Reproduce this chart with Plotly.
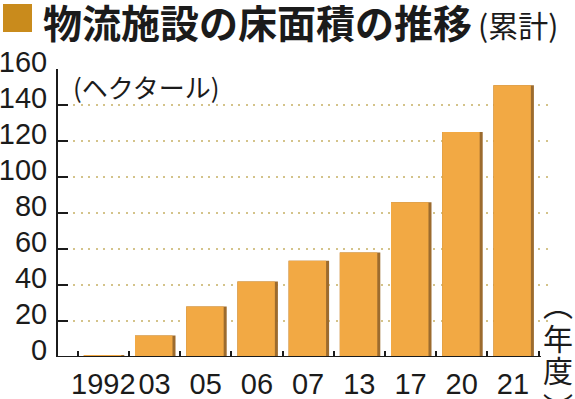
import plotly.graph_objects as go

# ---- data ----
years = ["1992", "03", "05", "06", "07", "13", "17", "20", "21"]
area_ha = [1, 12, 28, 42, 53.5, 58, 86, 125, 151]
y_ticks = [0, 20, 40, 60, 80, 100, 120, 140, 160]

title_text = "物流施設の床面積の推移"
title_sub = "(累計)"
unit_text = "(ヘクタール)"
year_unit = ["︵", "年", "度", "︶"]   # vertical (年度)

# ---- layout geometry (pixels) ----
W, H = 575, 399
L, R, T, B = 58, 24, 69, 42
PW, PH = W - L - R, H - T - B

def px(x):
    return (x - L) / PW

def py(y):
    return (H - B - y) / PH

NUM = "'Liberation Sans', Arial, sans-serif"
JP = "'Noto Sans CJK JP', 'Noto Sans CJK SC', sans-serif"

BAR = "#F2A944"
SHADOW = "#9C6B2E"
GRID = "#D4C38A"
INK = "#1b1b1b"

fig = go.Figure()
fig.add_trace(go.Bar(x=years, y=area_ha, marker=dict(color=SHADOW, line=dict(width=0)),
                     offset=-0.381, width=0.791, hoverinfo="skip", showlegend=False))
fig.add_trace(go.Bar(x=years, y=area_ha, marker=dict(color=BAR, line=dict(width=0)),
                     offset=-0.381, width=0.732, showlegend=False))

fig.update_layout(
    width=W, height=H,
    margin=dict(l=L, r=R, t=T, b=B, pad=0, autoexpand=False),
    paper_bgcolor="white", plot_bgcolor="white",
    barmode="overlay",
    font=dict(family=NUM, color=INK),
    xaxis=dict(
        type="category", range=[-0.885, 8.744], automargin=False, tickangle=0,
        showgrid=False, showline=False, zeroline=False,
        ticks="inside", tickson="boundaries", ticklen=6, tickwidth=2, tickcolor=INK,
        tickfont=dict(family=NUM, size=29, color=INK),
        ticklabelstandoff=7,
    ),
    yaxis=dict(
        range=[0, 160], tickvals=y_ticks, ticktext=[str(v) for v in y_ticks], automargin=False,
        showgrid=True, gridcolor=GRID, gridwidth=2, griddash="2px,5.5px",
        showline=True, linecolor=INK, linewidth=2, zeroline=False,
        ticks="inside", ticklen=10, tickwidth=2, tickcolor=INK,
        tickfont=dict(family=NUM, size=29, color=INK),
        ticklabelstandoff=3, ticklabelshift=-7,
    ),
)

# x axis baseline (ends at last category boundary)
fig.add_shape(type="line", xref="paper", yref="y", x0=0, x1=px(541), y0=0, y1=0,
              line=dict(color=INK, width=2))

# title square
fig.add_shape(type="rect", xref="paper", yref="paper",
              x0=px(3), x1=px(32), y0=py(32), y1=py(4),
              fillcolor="#C98B1C", line=dict(width=0))

ann = []
ann.append(dict(text="<b>" + title_text + "</b>", x=px(41), y=py(21), xanchor="left", yanchor="middle",
                font=dict(family=JP, size=39, color=INK)))
ann.append(dict(text=title_sub, x=px(476), y=py(24), xanchor="left", yanchor="middle",
                font=dict(family=JP, size=30, color=INK)))
ann.append(dict(text=unit_text, x=px(71), y=py(86), xanchor="left", yanchor="middle",
                font=dict(family=JP, size=26, color=INK)))
ys = [303, 337, 369, 406]
for ch, yy in zip(year_unit, ys):
    ann.append(dict(text=ch, x=px(558), y=py(yy), xanchor="center", yanchor="middle",
                    font=dict(family=JP, size=30, color=INK)))

for a in ann:
    a.update(xref="paper", yref="paper", showarrow=False)
fig.update_layout(annotations=ann)

fig.write_html("out.html", config={"displayModeBar": False},
               post_script="document.body.style.margin='0';document.body.style.overflow='hidden';")
